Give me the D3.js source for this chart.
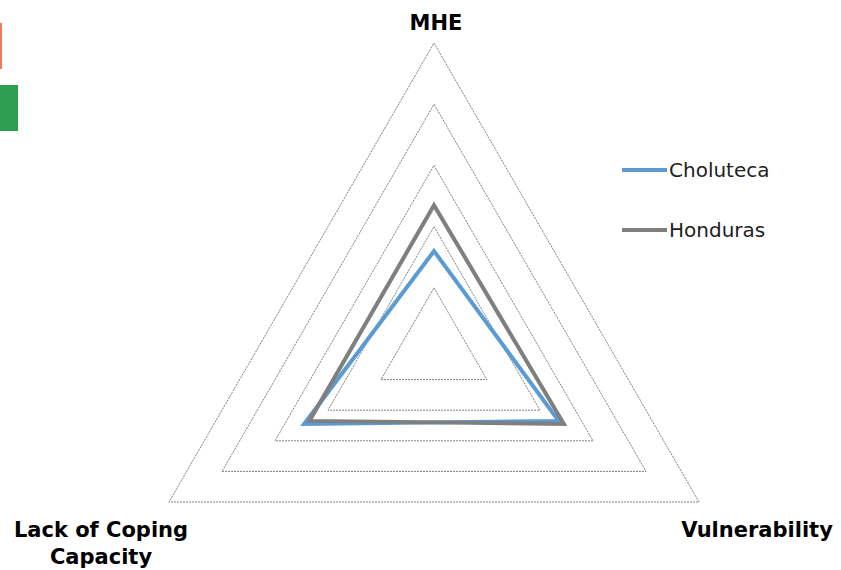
<!DOCTYPE html>
<html>
<head>
<meta charset="utf-8">
<script src="https://cdn.jsdelivr.net/npm/d3@7"></script>
<style>
  body { margin: 0; background: #fff; }
  svg text { font-family: "DejaVu Sans", Verdana, sans-serif; }
</style>
</head>
<body>
<div class="canvas"><svg width="841" height="570"></svg></div>
<script>
var axesNames = ["MHE", "Vulnerability", "Lack of Coping Capacity"];
var choluteca = [3.2, 4.7, 4.9];
var honduras = [4.7, 4.9, 4.7];
var levels = [2, 4, 6, 8, 10];
var seriesNames = ["Choluteca", "Honduras"];
var seriesColors = ["#5b9bd5", "#7f7f7f"];

var width = 841, height = 570;
var cx = 434, cy = 349;

var svg = d3.select(".canvas").select("svg");

// stray coloured blocks on the left edge
svg.append("rect").attr("x", 0).attr("y", 23).attr("width", 2).attr("height", 46).style("fill", "#f47a55");
svg.append("rect").attr("x", 0).attr("y", 85).attr("width", 18).attr("height", 46).style("fill", "#2e9e53");

var scaleR = d3.scaleLinear()
    .domain([0, 10])
    .range([0, 306]);

var scaleAngle = d3.scaleLinear()
    .domain([0, axesNames.length])
    .range([-Math.PI / 2, Math.PI * 1.5]);

function pt(i, v) {
    var a = scaleAngle(i);
    return [cx + scaleR(v) * Math.cos(a), cy + scaleR(v) * Math.sin(a)];
}

var line = d3.line();

// grid
var grid = svg.append("g").attr("class", "grid");
grid.selectAll("path")
    .data(levels)
    .enter()
    .append("path")
    .attr("d", function(l){
        return line(axesNames.map(function(n, i){ return pt(i, l); })) + "Z";
    })
    .style("fill", "none")
    .style("stroke", "#808080")
    .style("stroke-width", 1)
    .style("stroke-dasharray", "2,1");

// series
var plot = svg.append("g").attr("class", "plot");
plot.selectAll("path")
    .data([choluteca, honduras])
    .enter()
    .append("path")
    .attr("d", function(d){
        return line(d.map(function(v, i){ return pt(i, v); })) + "Z";
    })
    .style("fill", "none")
    .style("stroke", function(d, i){ return seriesColors[i]; })
    .style("stroke-width", 4)
    .style("stroke-linejoin", "miter");

// axis labels
var pTop = pt(0, 10), pBr = pt(1, 10), pBl = pt(2, 10);
svg.append("text").attr("x", pTop[0] + 2).attr("y", pTop[1] - 13)
    .attr("text-anchor", "middle").style("font-weight", "bold").style("font-size", "21px")
    .text(axesNames[0]);
svg.append("text").attr("x", pBr[0] + 58).attr("y", pBr[1] + 35)
    .attr("text-anchor", "middle").style("font-weight", "bold").style("font-size", "21px")
    .text(axesNames[1]);
var lcc = svg.append("text").attr("x", pBl[0] - 68).attr("y", pBl[1] + 35)
    .attr("text-anchor", "middle").style("font-weight", "bold").style("font-size", "21px");
lcc.append("tspan").attr("x", pBl[0] - 68).text("Lack of Coping");
lcc.append("tspan").attr("x", pBl[0] - 68).attr("dy", 27).text("Capacity");

// legend
var legend = svg.append("g").attr("class", "legend");
var items = legend.selectAll("g")
    .data(seriesNames)
    .enter()
    .append("g")
    .attr("transform", function(d, i){ return "translate(622," + (170 + i * 60) + ")"; });
items.append("line")
    .attr("x1", 0).attr("x2", 45).attr("y1", 0).attr("y2", 0)
    .style("stroke", function(d, i){ return seriesColors[i]; })
    .style("stroke-width", 4);
items.append("text")
    .attr("x", 47).attr("y", 7)
    .style("font-size", "20px")
    .style("fill", "#222")
    .text(function(d){ return d; });
</script>
</body>
</html>
